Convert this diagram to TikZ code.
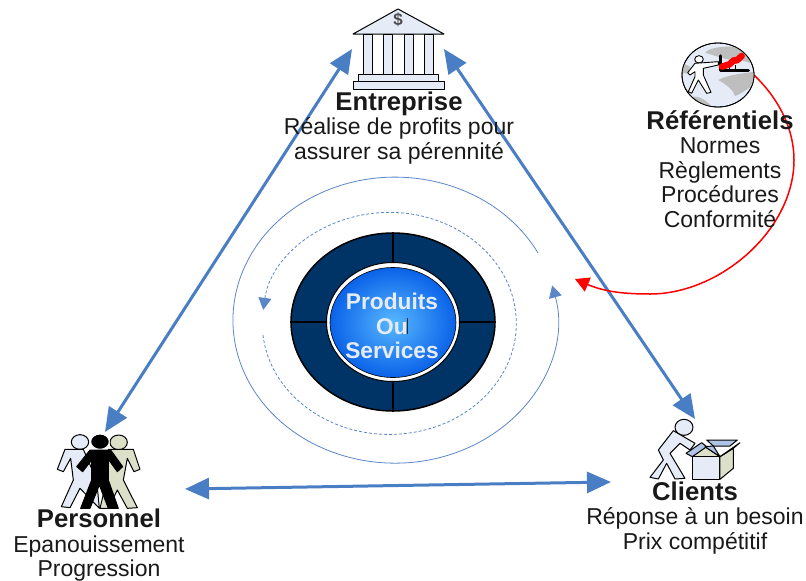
\documentclass[tikz,border=0pt]{standalone}
\usepackage{fontspec}
\setmainfont{Liberation Sans}
\usetikzlibrary{arrows.meta,shapes.geometric}
\definecolor{linkblue}{HTML}{4A7EC4}
\definecolor{ringblue}{HTML}{5B86C8}
\definecolor{navy}{HTML}{003366}
\definecolor{paleblue}{HTML}{E6ECF7}
\definecolor{paleolive}{HTML}{DDE0C8}
\definecolor{midblue}{HTML}{AEC3E6}
\definecolor{landgrey}{HTML}{BEBEBE}
\definecolor{corein}{HTML}{58B8FF}
\definecolor{coreout}{HTML}{0A62E8}
\newcommand{\ttl}[1]{{\fontsize{25.7}{24.5}\selectfont\bfseries #1}}
\tikzset{
  x=1pt,y=-1pt,
  lbl/.style={align=center,inner sep=0pt,font=\fontsize{23}{24.5}\selectfont,text=black!90},
  link/.style={draw=linkblue,line width=3pt,{Triangle[length=24pt,width=21pt,fill=linkblue]}-{Triangle[length=24pt,width=21pt,fill=linkblue]}},
  icon/.style={draw=black,line width=1pt,line join=round,fill=paleblue},
  icontiny/.style={shift={#1},x=.3333pt,y=-.3333pt},
  ring/.style={draw=ringblue,line width=.8pt},
}
\begin{document}
\begin{tikzpicture}
\useasboundingbox (0,0) rectangle (806,581);
\coordinate (entL) at (352,49);
\coordinate (entR) at (444,49);
\coordinate (perT) at (105,432);
\coordinate (perR) at (185,489);
\coordinate (cliT) at (695,419);
\coordinate (cliL) at (611,482);
\coordinate (refS) at (754,75);
\coordinate (hub) at (575,279);
% rings
\draw[ring,-{Triangle[length=12pt,width=13pt,fill=ringblue]}] (538,253) arc[start angle=28,end angle=374,x radius=162pt,y radius=143pt];
\draw[ring,densely dashed,-{Triangle[length=12pt,width=13pt,fill=ringblue]}] (263,335) arc[start angle=186,end angle=533,x radius=127pt,y radius=111pt];
% hub
\node[ellipse,draw=black,line width=1.5pt,fill=navy,minimum width=204pt,minimum height=178pt,inner sep=0pt] (disc) at (393,322) {};
\draw[black,line width=1.5pt] (disc.north) -- (disc.south);
\draw[black,line width=1.5pt] (disc.west) -- (disc.east);
\node[ellipse,draw=black,line width=1pt,fill=white,minimum width=133pt,minimum height=119pt,inner sep=0pt] (halo) at (393,322) {};
\node[ellipse,draw=black,line width=.6pt,inner color=corein,outer color=coreout,minimum width=126pt,minimum height=110pt,inner sep=0pt] (core) at (393,322.5) {};
\node[inner sep=0pt,align=center,text=paleblue,font=\bfseries\fontsize{22.7}{24.5}\selectfont] (coretext) at (392,326) {Produits\\Ou\\Services};
\draw[black!70!orange,line width=.4pt] (407.5,318) -- (407.5,334);
% links
\draw[link] (entL) -- (perT);
\draw[link] (entR) -- (cliT);
\draw[link] (perR) -- (cliL);
\draw[red,line width=1.5pt,-{Triangle[length=14pt,width=15pt,fill=red]}] (refS) .. controls (780,100) and (794,130) .. (794,160) .. controls (794,230) and (720,294) .. (650,294) .. controls (625,294) and (605,292) .. (hub);
% temple
\path[icon] (353,34) -- (398,9) -- (444,34) -- cycle;
\foreach \cx in {367.5,388,408.5,429}{\path[icon] (\cx-4.5,34) rectangle (\cx+4.5,74);}
\path[icon] (358,74) rectangle (438,81);
\path[icon] (353,81) rectangle (444,89);
\node[inner sep=0pt,font=\bfseries\fontsize{17}{17}\selectfont,text=black!70] (dollar) at (398,20) {\$};
% globe
\node[ellipse,draw=black,line width=.8pt,fill=paleblue,minimum width=72pt,minimum height=64pt,inner sep=0pt] (globe) at (718,75) {};
\begin{scope}
\clip (718,75) ellipse[x radius=36pt,y radius=32pt];
\begin{scope}[icontiny={(640,30)}]
\fill[landgrey] (195,68) .. controls (210,50) and (270,45) .. (310,55) -- (335,100) -- (300,90) .. controls (270,95) and (235,80) .. (195,68);
\fill[landgrey] (235,150) .. controls (260,135) and (310,130) .. (345,125) -- (345,165) .. controls (320,175) and (310,190) .. (285,198) .. controls (280,180) and (260,165) .. (235,150);
\fill[landgrey] (160,200) .. controls (180,198) and (205,215) .. (220,235) -- (170,235) -- cycle;
\fill[landgrey] (130,100) -- (150,110) -- (145,130) -- (125,130) -- cycle;
\end{scope}
\end{scope}
\draw[black,line width=.8pt] (718,75) ellipse[x radius=36pt,y radius=32pt];
\begin{scope}[icontiny={(640,30)}]
\draw[black,line width=.9pt,fill=white,line join=round] (177,88) ellipse[x radius=13,y radius=11];
\draw[black,line width=.9pt,fill=white,line join=round] (165,100) -- (235,95) -- (235,105) -- (190,115) -- (190,135) -- (213,187) -- (200,190) -- (175,150) -- (155,190) -- (145,185) -- (165,140) -- (165,125) -- (150,135) -- (143,128) -- cycle;
\draw[black,line width=3.5pt,line cap=round,line join=round] (241,78) -- (241,122) -- (325,122);
\draw[black,line width=1pt] (270,122) -- (270,100) (288,122) -- (288,105);
\draw[red,line width=6.5pt,line cap=round,line join=round] (246,110) -- (268,103) -- (283,90) -- (290,92) -- (305,78);
\end{scope}
% people
\begin{scope}[icontiny={(40,420)}]
\path[draw=black,line width=1pt,fill=paleblue,line join=round] (120,66) ellipse[x radius=26,y radius=22];
\path[draw=black,line width=1pt,fill=paleblue,line join=round] (75,88) -- (130,88) -- (170,180) -- (178,265) -- (120,205) -- (90,263) -- (64,260) -- (100,180) -- (92,115) -- (70,155) -- (52,148) -- cycle;
\path[draw=black,line width=1pt,fill=paleolive,line join=round] (236,67) ellipse[x radius=26,y radius=22];
\path[draw=black,line width=1pt,fill=paleolive,line join=round] (205,88) -- (280,88) -- (300,148) -- (282,155) -- (262,115) -- (250,180) -- (292,263) -- (262,265) -- (232,210) -- (205,265) -- (180,265) -- (200,180) -- cycle;
\path[draw=white,line width=1pt,fill=black,line join=round] (180,65) ellipse[x radius=28,y radius=23];
\path[draw=black,line width=1pt,fill=black,line join=round] (150,90) -- (212,90) -- (248,140) -- (232,155) -- (205,118) -- (205,180) -- (235,265) -- (205,265) -- (178,195) -- (150,265) -- (122,265) -- (155,180) -- (155,120) -- (128,155) -- (110,140) -- cycle;
\end{scope}
% box man
\begin{scope}[icontiny={(630,400)}]
\path[icon] (162,82) ellipse[x radius=27,y radius=24];
\path[icon] (130,92) -- (195,130) -- (180,150) -- (150,130) -- (120,160) -- (165,235) -- (135,237) -- (110,190) -- (85,237) -- (60,232) -- (100,180) -- (85,150) -- cycle;
\path[draw=black,line width=1pt,fill=midblue,line join=round] (230,120) -- (322,120) -- (300,138) -- (250,138) -- cycle;
\path[draw=black,line width=1pt,fill=paleolive,line join=round] (187,170) -- (225,140) -- (270,170) -- cycle;
\path[draw=black,line width=1pt,fill=paleblue,line join=round] (187,170) rectangle (270,238);
\path[draw=black,line width=1pt,fill=paleolive,line join=round] (270,170) -- (310,145) -- (310,205) -- (270,238) -- cycle;
\path[draw=black,line width=1pt,fill=midblue,line join=round] (168,160) -- (215,128) -- (230,140) -- (187,170) -- cycle;
\path[draw=black,line width=1pt,fill=midblue,line join=round] (270,170) -- (330,128) -- (310,145) -- (270,170) -- (225,140) -- (250,138) -- cycle;
\end{scope}
% labels
\node[lbl] (entreprise) at (399,128) {\ttl{Entreprise}\\Réalise de profits pour\\assurer sa pérennité};
\node[lbl] (referentiels) at (720,169) {\ttl{Référentiels}\\Normes\\Règlements\\Procédures\\Conformité};
\node[lbl] (personnel) at (99,545.5) {\ttl{Personnel}\\Epanouissement\\Progression};
\node[lbl] (clients) at (695,518) {\ttl{Clients}\\Réponse à un besoin\\Prix compétitif};
\end{tikzpicture}
\end{document}
